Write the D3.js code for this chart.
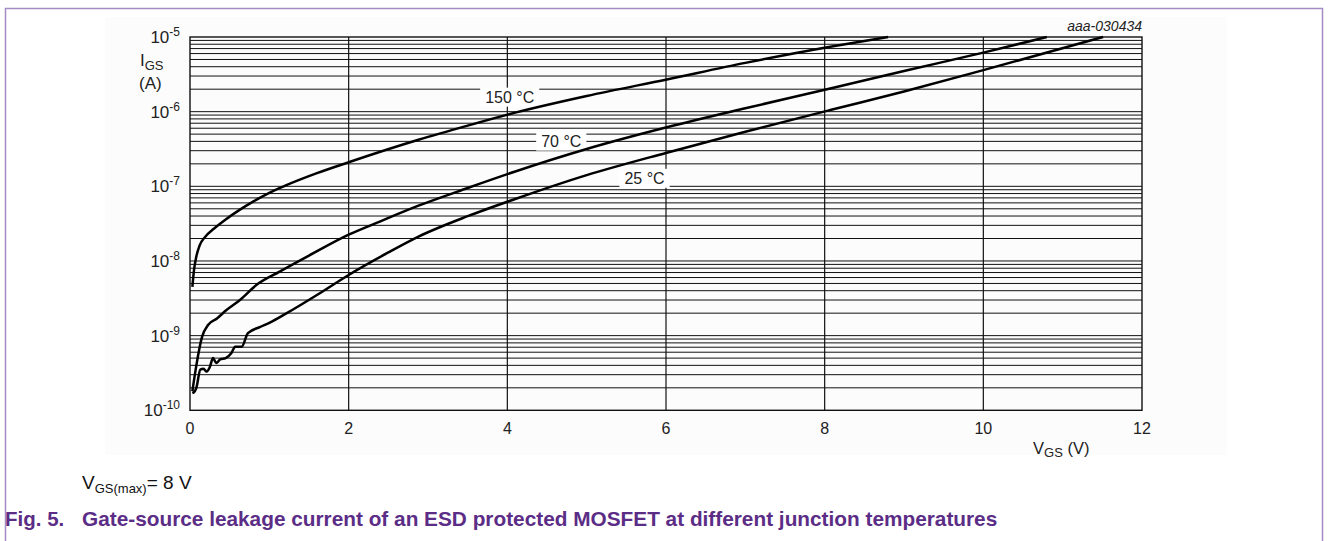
<!DOCTYPE html>
<html>
<head>
<meta charset="utf-8">
<script src="https://cdn.jsdelivr.net/npm/d3@7"></script>
<style>
  body { margin: 0; background: #fff; }
  svg { font-family: "Liberation Sans", Arial, sans-serif; }
</style>
</head>
<body>
<svg id="chart" width="1328" height="541"></svg>
<script>
// Curves: [V_GS (V), I_GS (A)]
const t150 = [
  [0.03, 4.5e-9], [0.05, 7.5e-9], [0.08, 1.15e-8], [0.12, 1.6e-8], [0.19, 2.1e-8],
  [0.3, 2.7e-8], [0.45, 3.6e-8], [0.62, 4.8e-8], [0.8, 6.3e-8], [1.0, 8.2e-8], [1.2, 1.02e-7],
  [1.6, 1.5e-7], [2.0, 2.1e-7], [2.88, 4.2e-7], [3.5, 6.5e-7], [4.1, 9.7e-7],
  [5, 1.62e-6], [6.01, 2.7e-6], [7, 4.5e-6], [8.07, 7.4e-6], [8.8, 1.0e-5]
];
const t70 = [
  [0.03, 1.8e-10], [0.08, 4.0e-10], [0.15, 9.5e-10], [0.23, 1.4e-9], [0.34, 1.7e-9],
  [0.46, 2.2e-9], [0.63, 3.0e-9], [0.84, 4.8e-9], [1.13, 7.2e-9], [1.5, 1.18e-8],
  [2.0, 2.25e-8], [2.4, 3.4e-8], [2.88, 5.5e-8], [3.5, 9.5e-8], [4.1, 1.58e-7], [5, 3.16e-7],
  [6.01, 6.17e-7], [7, 1.11e-6], [8.07, 2.04e-6], [9, 3.5e-6], [10.0, 6.17e-6], [10.8, 1.0e-5]
];
const t25 = [
  [0.03, 1.7e-10], [0.06, 1.8e-10], [0.08, 2.0e-10], [0.13, 3.5e-10], [0.17, 3.6e-10],
  [0.21, 3.3e-10], [0.25, 3.8e-10], [0.29, 5.0e-10], [0.33, 4.3e-10], [0.38, 4.8e-10],
  [0.45, 5.0e-10], [0.52, 5.8e-10], [0.57, 7.1e-10], [0.65, 7.1e-10], [0.73, 1.08e-9],
  [0.88, 1.3e-9], [1.0, 1.48e-9], [1.22, 2.0e-9], [1.6, 3.5e-9], [2.0, 6.5e-9],
  [2.5, 1.3e-8], [2.88, 2.12e-8], [3.5, 3.98e-8], [4.1, 6.76e-8], [5, 1.41e-7],
  [6.01, 2.82e-7], [7, 5.37e-7], [8.07, 1.05e-6], [9, 1.86e-6], [10.0, 3.6e-6], [11.51, 1.0e-5]
];

const xTicks = [0, 2, 4, 6, 8, 10, 12];
const yExponents = [-5, -6, -7, -8, -9, -10];

// curve labels: text, position in data units
const curveLabels = [
  { text: "150 °C", v: 4.03, i: 1.32e-6 },
  { text: "70 °C", v: 4.68, i: 3.4e-7 },
  { text: "25 °C", v: 5.73, i: 1.08e-7 }
];

const svg = d3.select("#chart");

// figure frame (purple)
svg.append("path")
  .attr("d", "M5.5,541 V8.5 H1322.5 V541")
  .attr("fill", "none")
  .attr("stroke", "#a48bc6")
  .attr("stroke-width", 1.5);

// faint image background
svg.append("rect")
  .attr("x", 105).attr("y", 17).attr("width", 1122).attr("height", 438)
  .attr("fill", "#fcfcfc");

const x = d3.scaleLinear().domain([0, 12]).range([190, 1142]);
const y = d3.scaleLog().domain([1e-10, 1e-5]).range([410.3, 37]);

const g = svg.append("g");

// horizontal grid: 2..9 x each decade plus decades
const minor = [];
for (let e = -10; e < -5; e++) {
  for (let m = 2; m <= 9; m++) minor.push(m * Math.pow(10, e));
}
g.selectAll(".hgrid")
  .data(minor)
  .join("line")
  .attr("x1", x(0)).attr("x2", x(12))
  .attr("y1", d => y(d)).attr("y2", d => y(d))
  .attr("stroke", "#111")
  .attr("stroke-width", 1);

g.selectAll(".hmajor")
  .data(yExponents.slice(1, -1))
  .join("line")
  .attr("x1", x(0)).attr("x2", x(12))
  .attr("y1", d => y(Math.pow(10, d))).attr("y2", d => y(Math.pow(10, d)))
  .attr("stroke", "#111")
  .attr("stroke-width", 1);

// vertical grid
g.selectAll(".vgrid")
  .data(xTicks.slice(1, -1))
  .join("line")
  .attr("x1", d => x(d)).attr("x2", d => x(d))
  .attr("y1", y(1e-5)).attr("y2", y(1e-10))
  .attr("stroke", "#111")
  .attr("stroke-width", 1.2);

// plot frame
g.append("rect")
  .attr("x", x(0)).attr("y", y(1e-5))
  .attr("width", x(12) - x(0)).attr("height", y(1e-10) - y(1e-5))
  .attr("fill", "none")
  .attr("stroke", "#111")
  .attr("stroke-width", 1.4);

// curve labels with white boxes
curveLabels.forEach(l => {
  const t = g.append("text")
    .attr("x", x(l.v)).attr("y", y(l.i))
    .attr("text-anchor", "middle")
    .attr("font-size", 16)
    .attr("fill", "#222")
    .text(l.text);
  const bb = t.node().getBBox();
  g.insert("rect", () => t.node())
    .attr("x", bb.x - 5).attr("y", bb.y - 1)
    .attr("width", bb.width + 10).attr("height", bb.height + 2)
    .attr("fill", "#fff");
});

// curves
const line = d3.line()
  .x(d => x(d[0]))
  .y(d => y(d[1]))
  .curve(d3.curveMonotoneX);

[t150, t70, t25].forEach(s => {
  g.append("path")
    .datum(s)
    .attr("d", line)
    .attr("fill", "none")
    .attr("stroke", "#000")
    .attr("stroke-width", 2.5)
    .attr("stroke-linejoin", "round");
});

// x tick labels
g.selectAll(".xlab")
  .data(xTicks)
  .join("text")
  .attr("x", d => x(d)).attr("y", 434)
  .attr("text-anchor", "middle")
  .attr("font-size", 16)
  .attr("fill", "#222")
  .text(d => d);

// y tick labels 10^n
yExponents.forEach(e => {
  const t = g.append("text")
    .attr("x", 180).attr("y", y(Math.pow(10, e)) + 6)
    .attr("text-anchor", "end")
    .attr("font-size", 17)
    .attr("fill", "#222");
  t.append("tspan").text("10");
  t.append("tspan").attr("dy", -7).attr("font-size", 12).text(e);
});

// axis titles
const yt = g.append("text").attr("x", 140).attr("y", 66).attr("font-size", 17).attr("fill", "#222");
yt.append("tspan").text("I");
yt.append("tspan").attr("dy", 4).attr("font-size", 13).text("GS");
g.append("text").attr("x", 139).attr("y", 89).attr("font-size", 17).attr("fill", "#222").text("(A)");

const xt = g.append("text").attr("x", 1033).attr("y", 454).attr("font-size", 16.5).attr("fill", "#222");
xt.append("tspan").text("V");
xt.append("tspan").attr("dy", 3).attr("font-size", 13).text("GS");
xt.append("tspan").attr("dy", -3).text(" (V)");

g.append("text")
  .attr("x", 1142).attr("y", 31)
  .attr("text-anchor", "end")
  .attr("font-size", 14)
  .attr("font-style", "italic")
  .attr("fill", "#222")
  .text("aaa-030434");

// note and caption
const note = svg.append("text").attr("x", 82).attr("y", 489).attr("font-size", 19).attr("fill", "#111");
note.append("tspan").text("V");
note.append("tspan").attr("dy", 4).attr("font-size", 13).text("GS(max)");
note.append("tspan").attr("dy", -4).text("= 8 V");

svg.append("text")
  .attr("x", 5).attr("y", 526)
  .attr("font-size", 20.5)
  .attr("font-weight", "bold")
  .attr("fill", "#5b2d86")
  .text("Fig. 5.");
svg.append("text")
  .attr("x", 82).attr("y", 526)
  .attr("font-size", 20.8)
  .attr("font-weight", "bold")
  .attr("fill", "#5b2d86")
  .text("Gate-source leakage current of an ESD protected MOSFET at different junction temperatures");
</script>
</body>
</html>
